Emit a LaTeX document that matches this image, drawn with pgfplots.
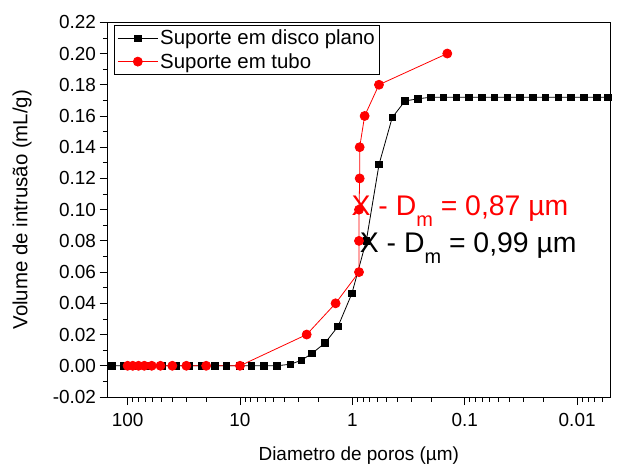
\documentclass[border=0pt]{standalone}
\usepackage{pgfplots}
\pgfplotsset{compat=1.18}
\usepackage{fontspec}
\setmainfont{Liberation Sans}
\begin{document}
\begin{tikzpicture}
\useasboundingbox (-107.5bp,-69bp) rectangle (509.5bp,397bp);
\begin{axis}[
  at={(0,0)}, anchor=south west,
  scale only axis, width=502.5bp, height=374.7bp,
  xmode=log, x dir=reverse, xmin=0.0051, xmax=151,
  ymin=-0.02, ymax=0.22,
  xtick={100,10,1,0.1,0.01}, xticklabels={100,10,1,0.1,0.01},
  minor xtick={0.006,0.007,0.008,0.009,0.02,0.03,0.04,0.05,0.06,0.07,0.08,0.09,0.2,0.3,0.4,0.5,0.6,0.7,0.8,0.9,2,3,4,5,6,7,8,9,20,30,40,50,60,70,80,90},
  ytick={-0.02,0,0.02,0.04,0.06,0.08,0.1,0.12,0.14,0.16,0.18,0.2,0.22},
  yticklabels={-0.02,0.00,0.02,0.04,0.06,0.08,0.10,0.12,0.14,0.16,0.18,0.20,0.22},
  minor ytick={-0.01,0.01,0.03,0.05,0.07,0.09,0.11,0.13,0.15,0.17,0.19,0.21},
  tick pos=left, tick align=outside,
  major tick length=8bp, minor tick length=4.5bp,
  tick style={black, line width=0.8bp},
  axis line style={line width=1bp},
  ticklabel style={font=\fontsize{19}{21}\selectfont},
  xticklabel style={yshift=-5bp},
  label style={font=\fontsize{19}{22}\selectfont},
  xlabel={Diametro de poros (µm)},
  ylabel={Volume de intrusão (mL/g)},
  xlabel style={at={(axis description cs:0.5,-0.169)}, anchor=base},
  ylabel style={at={(axis description cs:-0.170,0.5)}, anchor=center, font=\fontsize{20.5}{22}\selectfont},
  legend style={at={(axis description cs:0.013,0.992)}, anchor=north west,
    draw=black, line width=0.8bp, font=\fontsize{20.5}{23}\selectfont,
    inner xsep=3bp, inner ysep=2.5bp, row sep=3bp},
  legend cell align=left,
  legend image code/.code={\draw[mark repeat=2,mark phase=2] plot coordinates {(0bp,0bp) (20bp,0bp) (40bp,0bp)};},
]
\addplot[black, line width=0.8bp, mark=square*, mark size=3.3bp, mark options={solid}] coordinates {
(138.7,0) (109.4,0) (83.8,0) (64.0,0) (49.0,0) (37.4,0) (28.6,0) (21.9,0) (16.7,0) (13.2,0) (10.0,0) (7.91,0) (6.11,0) (4.68,0)
(3.56,0.001) (2.84,0.0035) (2.30,0.0078) (1.75,0.0146) (1.34,0.0253) (1.01,0.0463) (0.752,0.080) (0.579,0.129) (0.442,0.159) (0.340,0.1696) (0.261,0.171)
(0.201,0.172) (0.155,0.172) (0.119,0.172) (0.0918,0.172) (0.0706,0.172) (0.0543,0.172) (0.0419,0.172) (0.0322,0.172) (0.0248,0.172) (0.0191,0.172) (0.0147,0.172) (0.0113,0.172) (0.00871,0.172) (0.00671,0.172) (0.0053,0.172)
};
\addlegendentry{Suporte em disco plano}
\addplot[red, line width=0.8bp, mark=*, mark size=4.5bp, mark options={solid}] coordinates {
(100,0) (90,0) (80,0) (71,0) (61,0) (51,0) (40,0) (30,0) (20,0) (10,0)
(2.55,0.020) (1.41,0.040) (0.873,0.060) (0.873,0.080) (0.873,0.100) (0.861,0.120) (0.861,0.140) (0.778,0.160) (0.58,0.180) (0.143,0.200)
};
\addlegendentry{Suporte em tubo}
\node[anchor=base west, text=red, font=\fontsize{28.5}{32}\selectfont, inner sep=0pt] at (axis cs:1.02,0.0965) {X - D\raisebox{-11bp}{\fontsize{20}{20}\selectfont m} = 0,87 µm};
\node[anchor=base west, text=black, font=\fontsize{28.5}{32}\selectfont, inner sep=0pt] at (axis cs:0.861,0.0726) {X - D\raisebox{-11bp}{\fontsize{20}{20}\selectfont m} = 0,99 µm};
\end{axis}
\end{tikzpicture}
\end{document}
